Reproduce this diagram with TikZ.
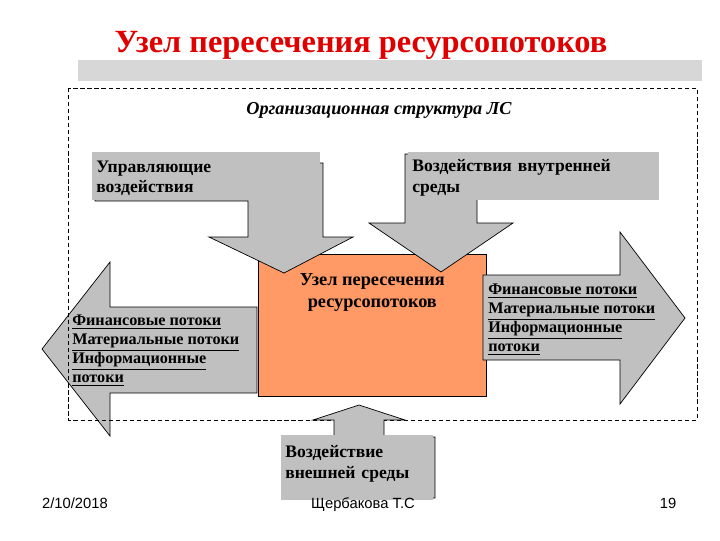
\documentclass[tikz,border=0pt]{standalone}
\usepackage{fontspec}
\setmainfont{Liberation Serif}
\newfontfamily\footfont{Liberation Sans}
\usetikzlibrary{positioning}
\definecolor{calloutgray}{HTML}{C0C0C0}
\definecolor{huborange}{HTML}{FF9966}
\definecolor{titlered}{HTML}{E00000}
\definecolor{bargray}{HTML}{D7D7D7}

\begin{document}
\begin{tikzpicture}[x=0.025cm, y=-0.025cm,
  callout/.style={fill=calloutgray, draw=black, line width=0.5pt, line join=miter},
  calltext/.style={fill=calloutgray, anchor=north west, align=left, inner xsep=0.1cm, inner ysep=3pt, font=\bfseries\fontsize{12.5}{14.5}\selectfont},
  flowtext/.style={anchor=north west, align=left, inner sep=0pt, font=\bfseries\fontsize{11.5}{13.5}\selectfont},
  foot/.style={anchor=base, font=\footfont\fontsize{10.5}{12}\selectfont}]
\useasboundingbox (0,0) rectangle (720,540);

% title
\node[text=titlered, font=\bfseries\fontsize{23}{26}\selectfont] (title) at (361,45) {Узел пересечения ресурсопотоков};
\fill[bargray] (78,60) rectangle (702,81);

% flows leaving the node
\draw[callout] (257,307) -- (110,307) -- (110,262) -- (42,349) -- (110,436) -- (110,393) -- (257,393) -- cycle;

% organisational structure
\node[font=\bfseries\itshape\fontsize{13}{15}\selectfont] (org) at (379,110) {Организационная структура ЛС};

% the node
\node[draw, thin, fill=huborange, minimum width=5.7cm, minimum height=3.55cm, anchor=north west] (hub) at (258,254) {};
\node[below=0.36cm of hub.north, align=center, font=\bfseries\fontsize{13}{15.5}\selectfont] (hubtext) {Узел пересечения\\ресурсопотоков};

\draw[callout] (483,275) -- (620,275) -- (620,232) -- (685,318) -- (620,404) -- (620,360) -- (483,360) -- cycle;
\draw[dash pattern=on 3pt off 2pt, thin] (68,88) rectangle (697,420);

\node[flowtext] (flowleft) at (72,315) {\underline{Финансовые потоки}\\\underline{Материальные потоки}\\\underline{Информационные}\\\underline{потоки}};
\node[flowtext] (flowright) at (488,284) {\underline{Финансовые потоки}\\\underline{Материальные потоки}\\\underline{Информационные}\\\underline{потоки}};

% control
\draw[callout] (95,163) -- (323,163) -- (323,237) -- (353,237) -- (284,273) -- (209,237) -- (248,237) -- (248,201) -- (95,201) -- cycle;
\node[calltext, text width=5.5cm, text height=11.3pt, text depth=16.8pt] (ctrl) at (92,152) {Управляющие\\воздействия};

% internal environment
\draw[callout] (405,154) -- (654,154) -- (654,199) -- (477,199) -- (477,223) -- (513,223) -- (441,272) -- (369,223) -- (405,223) -- cycle;
\node[calltext, text width=6.075cm, text height=10.8pt, text depth=17.3pt] (inner) at (408,152) {Воздействия внутренней\\среды};

% external environment
\draw[callout] (284,437) -- (334,437) -- (334,420) -- (313,420) -- (359,405) -- (405,420) -- (384,420) -- (384,437) -- (435,437) -- (435,498) -- (284,498) -- cycle;
\node[calltext, text width=3.6cm, text height=12.5pt, text depth=27.8pt, font=\bfseries\fontsize{12.5}{15}\selectfont] (outer) at (281,435) {Воздействие\\внешней среды};

% footer
\node[foot] (date) at (75,508) {2/10/2018};
\node[foot] (author) at (363,508) {Щербакова Т.С};
\node[foot] (page) at (668,508) {19};
\end{tikzpicture}
\end{document}
